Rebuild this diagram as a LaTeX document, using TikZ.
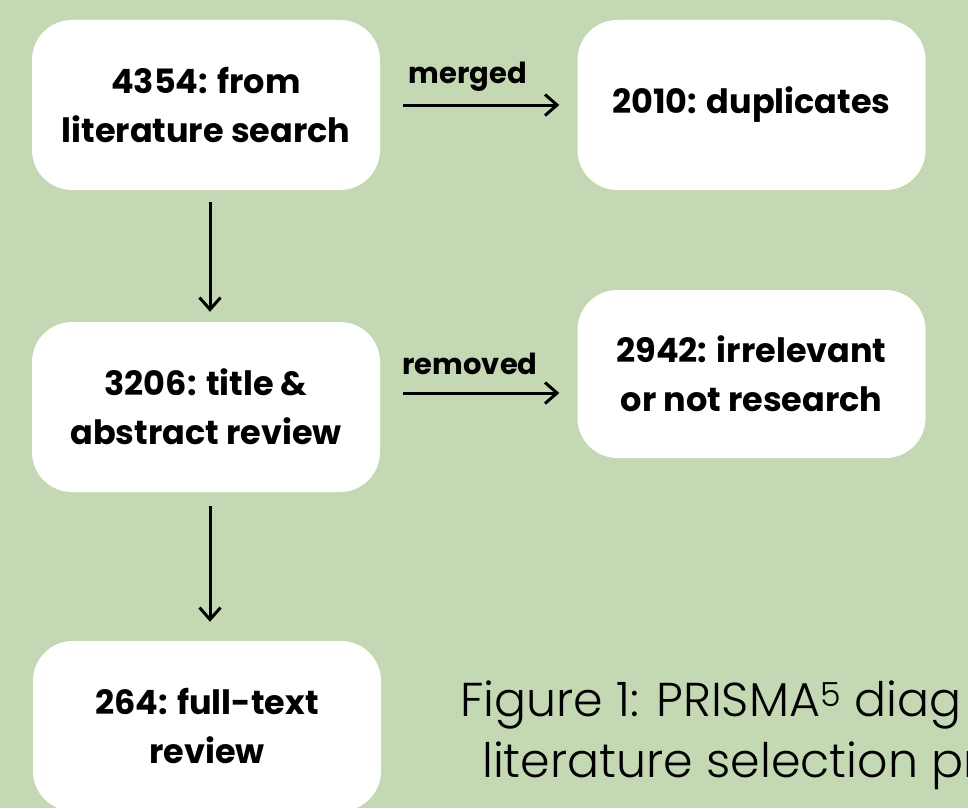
\documentclass[tikz,border=0pt]{standalone}
\usepackage{fontspec}
\setmainfont{Poppins}
\newfontfamily\capfont{Poppins Light}
\usetikzlibrary{arrows.meta}
\definecolor{bg}{HTML}{C5D8B4}
\begin{document}
\begin{tikzpicture}[x=1pt,y=-1pt,
 box/.style={fill=white, rounded corners=40pt, minimum width=348pt, minimum height=170pt, align=center, font=\fontsize{33.5}{49}\selectfont\bfseries, inner sep=0pt},
 conn/.style={line width=3pt, -{Straight Barb[length=12pt,width=21pt]}},
 lbl/.style={font=\fontsize{29}{32}\selectfont\bfseries, inner sep=0pt},
 captext/.style={font=\fontsize{47.5}{50}\selectfont\capfont, anchor=base west, inner sep=0pt}]
\fill[bg] (0,0) rectangle (968,808);
\clip (0,0) rectangle (968,808);
\node[box] (b1) at (206,105) {4354: from\\literature search};
\node[box] (b2) at (751.5,105) {2010: duplicates};
\node[box] (b3) at (206,407) {3206: title \&\\abstract review};
\node[box, minimum height=168pt] (b4) at (751.5,374) {2942: irrelevant\\or not research};
\node[box] (b5) at (207,726) {264: full-text\\review};
\draw[conn, shorten <=23pt, shorten >=18pt] (b1) -- (b2);
\draw[conn, shorten <=12pt, shorten >=10pt] ([xshift=4pt]b1.south) -- ([xshift=4pt]b1.south |- b3.north);
\draw[conn, shorten <=14pt, shorten >=19pt] ([xshift=4pt]b3.south) -- ([xshift=4pt]b3.south |- b5.north);
\coordinate (r0) at ([yshift=14pt]b3.east);
\draw[conn, shorten <=23pt, shorten >=18pt] (r0) -- (r0 -| b4.west);
\node[lbl] (m) at (468,77) {merged};
\node[lbl] (rm) at (470,364) {removed};
\node[captext] (c1) at (460,716) {Figure 1: PRISMA\textsuperscript{5} diag};
\node[captext] (c2) at (482,777) {literature selection pro};
\end{tikzpicture}
\end{document}
